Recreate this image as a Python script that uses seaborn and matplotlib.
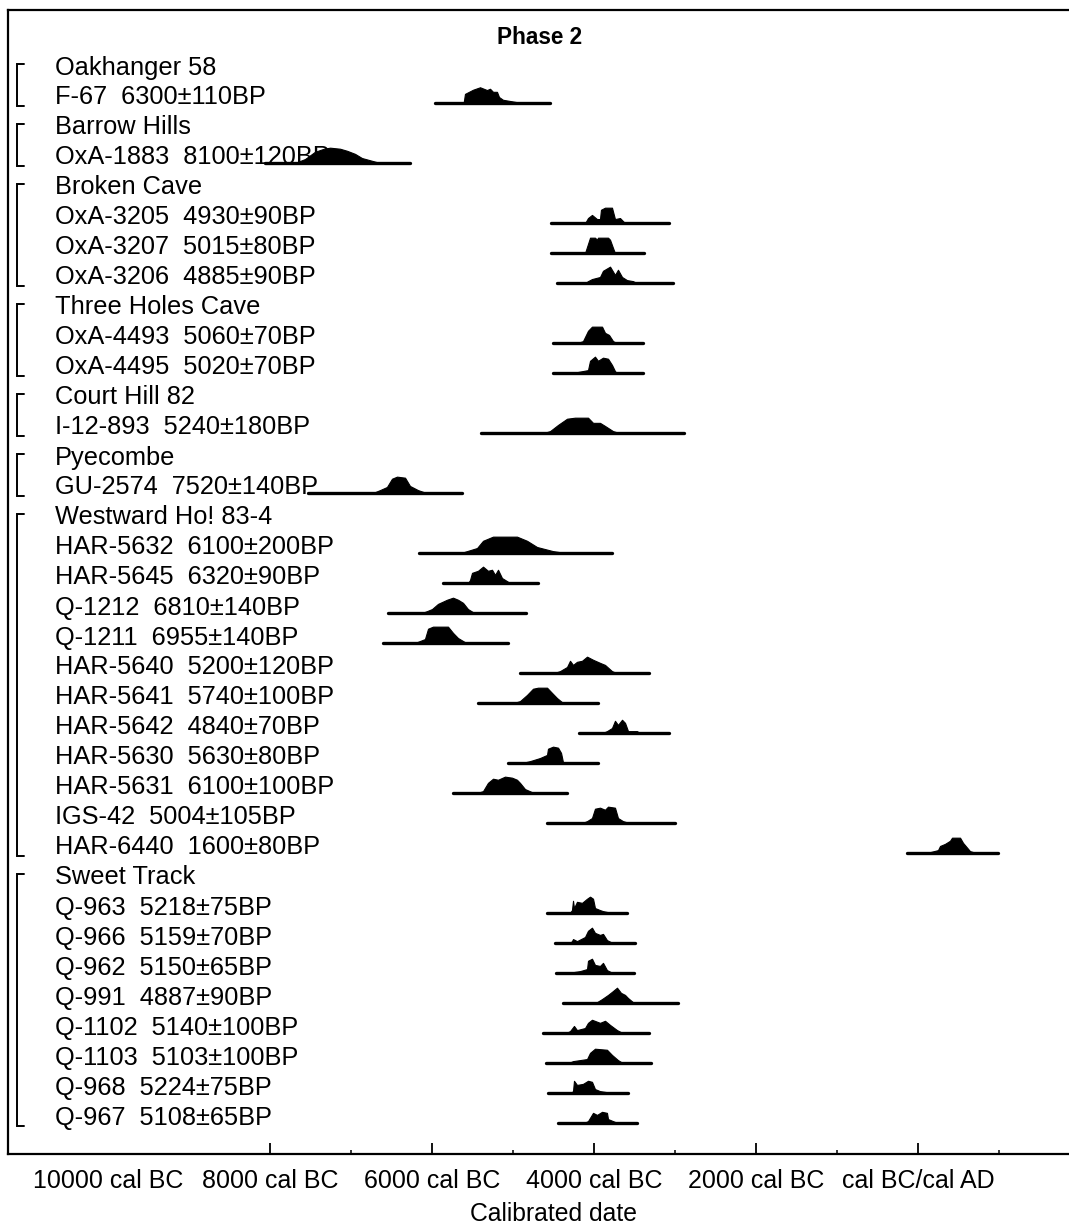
import numpy as np
import pandas as pd
import matplotlib
matplotlib.use("Agg")
import matplotlib.pyplot as plt
import matplotlib.transforms as mtransforms
from matplotlib.ticker import FixedLocator
import seaborn as sns

# ---------------- data (years: signed calendar years, BC negative) ----------------
title = "Phase 2"
x_label = "Calibrated date"
tick_years = [-10000, -8000, -6000, -4000, -2000, 0]
tick_labels = ["10000 cal BC", "8000 cal BC", "6000 cal BC", "4000 cal BC",
               "2000 cal BC", "cal BC/cal AD"]
minor_tick_years = [-7000, -5000, -3000, -1000, 1000]

group_names = ["Oakhanger 58", "Barrow Hills", "Broken Cave", "Three Holes Cave",
               "Court Hill 82", "Pyecombe", "Westward Ho! 83-4", "Sweet Track"]
group_sizes = [1, 1, 3, 2, 1, 1, 11, 8]

sample_labels = [
    "F-67  6300±110BP",
    "OxA-1883  8100±120BP",
    "OxA-3205  4930±90BP", "OxA-3207  5015±80BP", "OxA-3206  4885±90BP",
    "OxA-4493  5060±70BP", "OxA-4495  5020±70BP",
    "I-12-893  5240±180BP",
    "GU-2574  7520±140BP",
    "HAR-5632  6100±200BP", "HAR-5645  6320±90BP", "Q-1212  6810±140BP",
    "Q-1211  6955±140BP", "HAR-5640  5200±120BP", "HAR-5641  5740±100BP",
    "HAR-5642  4840±70BP", "HAR-5630  5630±80BP", "HAR-5631  6100±100BP",
    "IGS-42  5004±105BP", "HAR-6440  1600±80BP",
    "Q-963  5218±75BP", "Q-966  5159±70BP", "Q-962  5150±65BP", "Q-991  4887±90BP",
    "Q-1102  5140±100BP", "Q-1103  5103±100BP", "Q-968  5224±75BP", "Q-967  5108±65BP",
]
range_start = [-5963, -8062, -4531, -4531, -4457, -4506, -4506, -5395, -7531,
               -6161, -5864, -6543, -6605, -4914, -5432, -4185, -5062, -5741,
               -4580, -136,
               -4580, -4481, -4469, -4383, -4630, -4593, -4568, -4444]
range_end = [-4543, -6272, -3074, -3383, -3025, -3395, -3395, -2889, -5630,
             -3778, -4691, -4840, -5062, -3321, -3951, -3074, -3951, -4333,
             -3000, 988,
             -3593, -3494, -3506, -2963, -3321, -3296, -3580, -3469]

# probability profiles (relative height, peak ~16)
F67_yr = [-5610, -5593, -5494, -5407, -5321, -5284, -5247, -5198, -5173, -5124, -4951, -4914]
F67_p = [0, 9, 13, 15.4, 12.7, 14, 11, 11, 6, 3.3, 1, 0]
OxA1883_yr = [-7700, -7568, -7445, -7334, -7259, -7136, -7049, -6950, -6865, -6679, -6580]
OxA1883_p = [0, 4, 11, 14, 15, 14, 12, 9, 5, 1, 0]
OxA3205_yr = [-4110, -4074, -4025, -3963, -3926, -3914, -3864, -3778, -3741, -3679, -3617]
OxA3205_p = [0, 5, 8, 4, 4, 13, 15, 15, 4, 5, 0]
OxA3207_yr = [-4111, -4099, -4049, -3988, -3963, -3951, -3827, -3802, -3765, -3741]
OxA3207_p = [0, 3, 15, 15, 13, 15, 15, 13, 5, 0]
OxA3206_yr = [-4111, -4074, -4025, -3926, -3889, -3802, -3741, -3704, -3654, -3593, -3519, -3469]
OxA3206_p = [0, 2, 4, 6, 12, 16, 8, 13, 6, 3, 2, 0]
OxA4493_yr = [-4210, -4136, -4074, -4025, -3901, -3864, -3815, -3765, -3716]
OxA4493_p = [0, 2, 12, 16, 16, 10, 8, 2, 0]
OxA4495_yr = [-4272, -4210, -4074, -4049, -3988, -3951, -3889, -3827, -3778, -3741, -3716]
OxA4495_p = [0, 1, 3, 12, 16, 12, 15, 14, 8, 2, 0]
I12893_yr = [-4630, -4543, -4444, -4333, -4235, -4074, -4012, -3926, -3864, -3765, -3679]
I12893_p = [0, 2, 8, 14, 15, 15, 10, 10, 7, 2, 0]
GU2574_yr = [-6800, -6704, -6642, -6556, -6494, -6432, -6333, -6272, -6173, -6062]
GU2574_p = [0, 1, 3, 6, 14, 16, 15, 7, 3, 0]
HAR5632_yr = [-5650, -5568, -5444, -5370, -5247, -4951, -4827, -4704, -4506, -4333]
HAR5632_p = [0, 2, 5, 12, 16, 16, 12, 6, 2, 0]
HAR5645_yr = [-5556, -5531, -5506, -5432, -5370, -5309, -5259, -5222, -5185, -5136, -5074, -5037]
HAR5645_p = [0, 3, 10, 12, 16, 12, 13, 8, 13, 5, 2, 0]
Q1212_yr = [-6130, -6062, -6000, -5926, -5815, -5741, -5679, -5617, -5556, -5494, -5444]
Q1212_p = [0, 2, 4, 9, 13, 15, 13, 10, 4, 1, 0]
Q1211_yr = [-6260, -6185, -6087, -6049, -5988, -5803, -5741, -5679, -5593, -5531]
Q1211_p = [0, 1, 4, 14, 16, 16, 10, 5, 1, 0]
HAR5640_yr = [-4500, -4420, -4333, -4296, -4259, -4210, -4148, -4086, -4012, -3926, -3864, -3778, -3716]
HAR5640_p = [0, 2, 6, 12, 8, 11, 12, 16, 13, 10, 8, 2, 0]
HAR5641_yr = [-5000, -4914, -4827, -4753, -4691, -4580, -4519, -4457, -4395, -4358]
HAR5641_p = [0, 2, 8, 14, 15, 15, 10, 5, 1, 0]
HAR5642_yr = [-3900, -3840, -3778, -3741, -3704, -3654, -3617, -3580, -3469, -3432]
HAR5642_p = [0, 2, 5, 12, 8, 13, 10, 2, 2, 0]
HAR5630_yr = [-4900, -4790, -4667, -4580, -4568, -4506, -4444, -4407, -4383, -4358]
HAR5630_p = [0, 2, 5, 8, 14, 16, 15, 10, 1, 0]
HAR5631_yr = [-5450, -5370, -5309, -5247, -5185, -5099, -5012, -4951, -4914, -4852, -4765, -4704]
HAR5631_p = [0, 2, 10, 14, 13, 16, 15, 13, 10, 4, 1, 0]
IGS42_yr = [-4150, -4086, -4025, -3988, -3926, -3864, -3827, -3741, -3704, -3642, -3556]
IGS42_p = [0, 2, 5, 14, 15, 13, 16, 15, 5, 2, 0]
HAR6440_yr = [100, 148, 247, 272, 333, 395, 420, 519, 556, 642, 728]
HAR6440_p = [0, 1, 3, 7, 9, 12, 15, 15, 10, 2, 0]
Q963_yr = [-4300, -4272, -4259, -4247, -4210, -4148, -4086, -4049, -4012, -3988, -3926, -3889, -3827, -3802]
Q963_p = [0, 3, 12, 5, 11, 10, 14, 16, 14, 5, 3, 2, 1, 0]
Q966_yr = [-4300, -4272, -4259, -4210, -4111, -4074, -4025, -3988, -3926, -3889, -3840, -3765]
Q966_p = [0, 2, 4, 2, 6, 12, 15, 10, 8, 9, 3, 0]
Q962_yr = [-4300, -4259, -4173, -4086, -4074, -4025, -3988, -3926, -3889, -3840, -3765]
Q962_p = [0, 1, 2, 4, 12, 14, 8, 7, 10, 3, 0]
Q991_yr = [-4050, -3963, -3901, -3827, -3778, -3716, -3667, -3617, -3580, -3519, -3432]
Q991_p = [0, 1, 4, 8, 11, 15, 10, 8, 5, 1, 0]
Q1102_yr = [-4350, -4296, -4247, -4210, -4111, -4074, -4025, -3926, -3864, -3802, -3716, -3642]
Q1102_p = [0, 2, 7, 3, 5, 10, 13, 10, 12, 8, 3, 0]
Q1103_yr = [-4320, -4259, -4173, -4086, -4049, -3988, -3840, -3778, -3704, -3642]
Q1103_p = [0, 2, 3, 4, 10, 14, 13, 8, 3, 0]
Q968_yr = [-4290, -4259, -4247, -4210, -4136, -4074, -4025, -3988, -3926, -3840, -3802]
Q968_p = [0, 2, 12, 8, 9, 12, 11, 4, 2, 1, 0]
Q967_yr = [-4130, -4074, -4012, -3963, -3901, -3840, -3827, -3765, -3704]
Q967_p = [0, 2, 10, 8, 11, 10, 4, 2, 0]

profiles = [
    (F67_yr, F67_p), (OxA1883_yr, OxA1883_p),
    (OxA3205_yr, OxA3205_p), (OxA3207_yr, OxA3207_p), (OxA3206_yr, OxA3206_p),
    (OxA4493_yr, OxA4493_p), (OxA4495_yr, OxA4495_p),
    (I12893_yr, I12893_p), (GU2574_yr, GU2574_p),
    (HAR5632_yr, HAR5632_p), (HAR5645_yr, HAR5645_p), (Q1212_yr, Q1212_p),
    (Q1211_yr, Q1211_p), (HAR5640_yr, HAR5640_p), (HAR5641_yr, HAR5641_p),
    (HAR5642_yr, HAR5642_p), (HAR5630_yr, HAR5630_p), (HAR5631_yr, HAR5631_p),
    (IGS42_yr, IGS42_p), (HAR6440_yr, HAR6440_p),
    (Q963_yr, Q963_p), (Q966_yr, Q966_p), (Q962_yr, Q962_p), (Q991_yr, Q991_p),
    (Q1102_yr, Q1102_p), (Q1103_yr, Q1103_p), (Q968_yr, Q968_p), (Q967_yr, Q967_p),
]

# ---------------- layout / style ----------------
sns.set_theme(style="white")
plt.rcParams['font.family'] = ['Liberation Sans', 'DejaVu Sans']

W, H, DPI = 1069, 1226, 100
fig = plt.figure(figsize=(W / DPI, H / DPI), dpi=DPI)
ax_left_px, ax_right_px, ax_top_px, ax_bot_px = 8, 1100, 10, 1154
ax = fig.add_axes([ax_left_px / W, (H - ax_bot_px) / H,
                   (ax_right_px - ax_left_px) / W, (ax_bot_px - ax_top_px) / H])

# row bookkeeping
rows_label = []
sample_row = []
brackets = []
r = 1
si = 0
for gname, gsize in zip(group_names, group_sizes):
    first = r
    rows_label.append((r, gname))
    r += 1
    for _ in range(gsize):
        rows_label.append((r, sample_labels[si]))
        sample_row.append(r)
        r += 1
        si += 1
    brackets.append((first, r - 1))

BASE_OFF = 0.19       # baseline offset below text centre (rows)
HSCALE = 1 / 29.0     # relative height -> rows

# baselines through seaborn
recs = []
for lab, rr, a, b in zip(sample_labels, sample_row, range_start, range_end):
    recs.append({"sample": lab, "year": a, "y": rr + BASE_OFF})
    recs.append({"sample": lab, "year": b, "y": rr + BASE_OFF})
df = pd.DataFrame(recs)
sns.lineplot(data=df, x="year", y="y", units="sample", estimator=None, sort=False,
             color="black", lw=2.4, ax=ax, legend=False, zorder=4)

# distributions
for (yr, p), rr in zip(profiles, sample_row):
    yr = np.asarray(yr, float)
    p = np.asarray(p, float)
    base = rr + BASE_OFF
    ax.fill_between(yr, base, base - p * HSCALE, color="black", lw=0.8,
                    edgecolor="black", zorder=5)

# axes limits: px -> years  (x_px = 918 + 0.081*year)
ax.set_xlim((ax_left_px - 918) / 0.081, (ax_right_px - 918) / 0.081)
row0_px, row_px = 37.5, 30
ax.set_ylim((ax_bot_px - row0_px) / row_px, (ax_top_px - row0_px) / row_px)

# texts
trans = mtransforms.blended_transform_factory(ax.transAxes, ax.transData)
span = ax_right_px - ax_left_px
x_txt = (55 - ax_left_px) / span
for rr, txt in rows_label:
    ax.text(x_txt, rr, txt, transform=trans, ha="left", va="center",
            fontsize=18.3, color="black", zorder=1)
ax.text((540 - ax_left_px) / span, 0, title, transform=trans,
        ha="center", va="center", fontsize=16.3, fontweight="bold", color="black")

# brackets
bx0 = (17 - ax_left_px) / span
bx1 = (24 - ax_left_px) / span
for a, b in brackets:
    top, bot = a - 0.12, b + 0.27
    ax.plot([bx1, bx0, bx0, bx1], [top, top, bot, bot], transform=trans,
            color="black", lw=1.4, solid_joinstyle="miter", clip_on=False)

# axes style
for s in ["top", "left", "bottom"]:
    ax.spines[s].set_visible(True)
    ax.spines[s].set_color("black")
    ax.spines[s].set_linewidth(1.6)
ax.spines["right"].set_visible(False)
ax.xaxis.set_major_locator(FixedLocator(tick_years))
ax.set_xticklabels(tick_labels)
ax.xaxis.set_minor_locator(FixedLocator(minor_tick_years))
ax.tick_params(axis="x", which="major", direction="in", length=8, width=1.3,
               bottom=True, top=False, pad=11, labelsize=18, colors="black")
ax.tick_params(axis="x", which="minor", direction="in", length=3, width=1.3,
               bottom=True, top=False)
ax.xaxis.get_major_ticks()[0].tick1line.set_visible(False)
ax.set_yticks([])
ax.set_ylabel("")
ax.set_xlabel(x_label, fontsize=17.8, labelpad=6, color="black")
ax.grid(False)

fig.savefig("out.png", dpi=DPI, facecolor="white")
